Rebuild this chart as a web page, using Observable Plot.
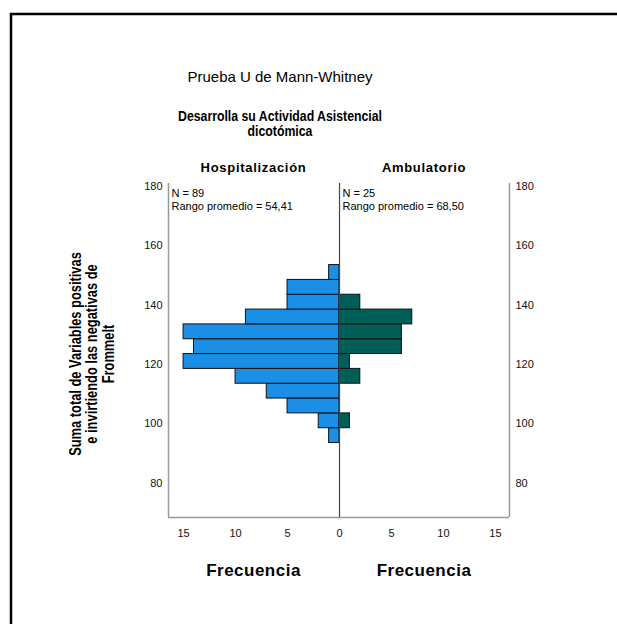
<!DOCTYPE html>
<html>
<head>
<meta charset="utf-8">
<script src="https://cdn.jsdelivr.net/npm/d3@7"></script>
<script src="https://cdn.jsdelivr.net/npm/@observablehq/plot@0.6"></script>
<style>
  html, body { margin: 0; padding: 0; background: #fff; }
  #wrap { position: relative; width: 617px; height: 624px; overflow: hidden; }
  svg { font-family: "Liberation Sans", Arial, sans-serif; }
</style>
</head>
<body>
<div id="wrap"></div>
<script>
// ---- data ----
const binStarts = [93.5, 98.5, 103.5, 108.5, 113.5, 118.5, 123.5, 128.5, 133.5, 138.5, 143.5, 148.5];
const binWidth = 5;
const hospitalizacion = [1, 2, 5, 7, 10, 15, 14, 15, 9, 5, 5, 1];
const ambulatorio     = [0, 1, 0, 0, 2, 1, 6, 6, 7, 2, 0, 0];
const groups = ["Hospitalización", "Ambulatorio"];
const groupN = [89, 25];
const rangoPromedio = ["54,41", "68,50"];
const yTicks = [80, 100, 120, 140, 160, 180];
const xTicks = [-15, -10, -5, 0, 5, 10, 15];
const xDomain = [-16.45, 16.35];
const yDomain = [68.4, 181];
const title = "Prueba U de Mann-Whitney";
const subtitle = ["Desarrolla su Actividad Asistencial", "dicotómica"];
const yTitle = ["Suma total de Variables positivas", "e invirtiendo las negativas de", "Frommelt"];
const xTitle = "Frecuencia";

const rows = [];
binStarts.forEach((b, i) => {
  rows.push({group: groups[0], lo: b, hi: b + binWidth, x1: -hospitalizacion[i], x2: 0});
  rows.push({group: groups[1], lo: b, hi: b + binWidth, x1: 0, x2: ambulatorio[i]});
});
const bars = rows.filter(d => d.x1 !== d.x2);

const W = 617, H = 624;
const chart = Plot.plot({
  width: W,
  height: H,
  marginLeft: 168,
  marginRight: 108,
  marginTop: 183,
  marginBottom: 107,
  style: {fontFamily: '"Liberation Sans", Arial, sans-serif', fontSize: "11px", color: "#111", background: "#fff"},
  x: {domain: xDomain, ticks: xTicks, tickFormat: d => Math.abs(d), tickSize: 0, tickPadding: 12, label: null},
  y: {domain: yDomain, ticks: yTicks, tickSize: 0, tickPadding: 6, label: null, axis: "both"},
  color: {domain: groups, range: ["#1b8fe6", "#005e58"]},
  marks: [
    Plot.rect(bars, {x1: "x1", x2: "x2", y1: "lo", y2: "hi", fill: "group", stroke: "#111", strokeWidth: 1}),
    Plot.ruleX(xDomain, {stroke: "#999", strokeWidth: 1.5}),
    Plot.ruleY([yDomain[0]], {stroke: "#999", strokeWidth: 1.5}),
    Plot.ruleX([0], {stroke: "#444", strokeWidth: 1.2}),
    Plot.text([`N = ${groupN[0]}\nRango promedio = ${rangoPromedio[0]}`], {
      frameAnchor: "top-left", textAnchor: "start", lineAnchor: "top", dx: 3, dy: 5, fontSize: 11, lineHeight: 1.15, fill: "#000"
    }),
    Plot.text([{x: 0, t: `N = ${groupN[1]}\nRango promedio = ${rangoPromedio[1]}`}], {
      x: "x", text: "t", frameAnchor: "top", textAnchor: "start", lineAnchor: "top", dx: 3, dy: 5, fontSize: 11, lineHeight: 1.15, fill: "#000"
    })
  ]
});
document.getElementById("wrap").appendChild(chart);

// ---- titles & frame ----
const svg = d3.select(chart);
const xs = (v) => chart.scale("x").apply(v);
// outer page border (left & top)
svg.append("path").attr("d", `M11,${H} V14 H${W}`).attr("fill", "none").attr("stroke", "#000").attr("stroke-width", 2.5);

const cx = 280;
svg.append("text").attr("x", cx).attr("y", 82).attr("text-anchor", "middle")
  .attr("font-size", 15).attr("fill", "#000").text(title);
subtitle.forEach((s, i) => {
  svg.append("text").attr("transform", `translate(${cx},${121 + i * 15}) scale(0.82,1)`)
    .attr("text-anchor", "middle")
    .attr("font-size", 15).attr("font-weight", "bold").attr("fill", "#000")
    .text(s);
});
// panel headers
const headerX = [(xs(xDomain[0]) + xs(0)) / 2, (xs(0) + xs(xDomain[1])) / 2];
groups.forEach((g, i) => {
  svg.append("text").attr("x", headerX[i]).attr("y", 172).attr("text-anchor", "middle")
    .attr("font-size", 13).attr("font-weight", "bold").attr("letter-spacing", 0.7).attr("fill", "#000").text(g);
  svg.append("text").attr("x", headerX[i]).attr("y", 576).attr("text-anchor", "middle")
    .attr("font-size", 17).attr("font-weight", "bold").attr("letter-spacing", 0.5).attr("fill", "#000").text(xTitle);
});
// y title (condensed)
const yt = svg.append("text").attr("transform", `translate(0,354) rotate(-90) scale(0.78,1)`)
  .attr("text-anchor", "middle").attr("font-size", 16.5).attr("font-weight", "bold").attr("fill", "#000");
yTitle.forEach((s, i) => {
  yt.append("tspan").attr("x", 0).attr("y", 81 + i * 16.5).text(s);
});
</script>
</body>
</html>
